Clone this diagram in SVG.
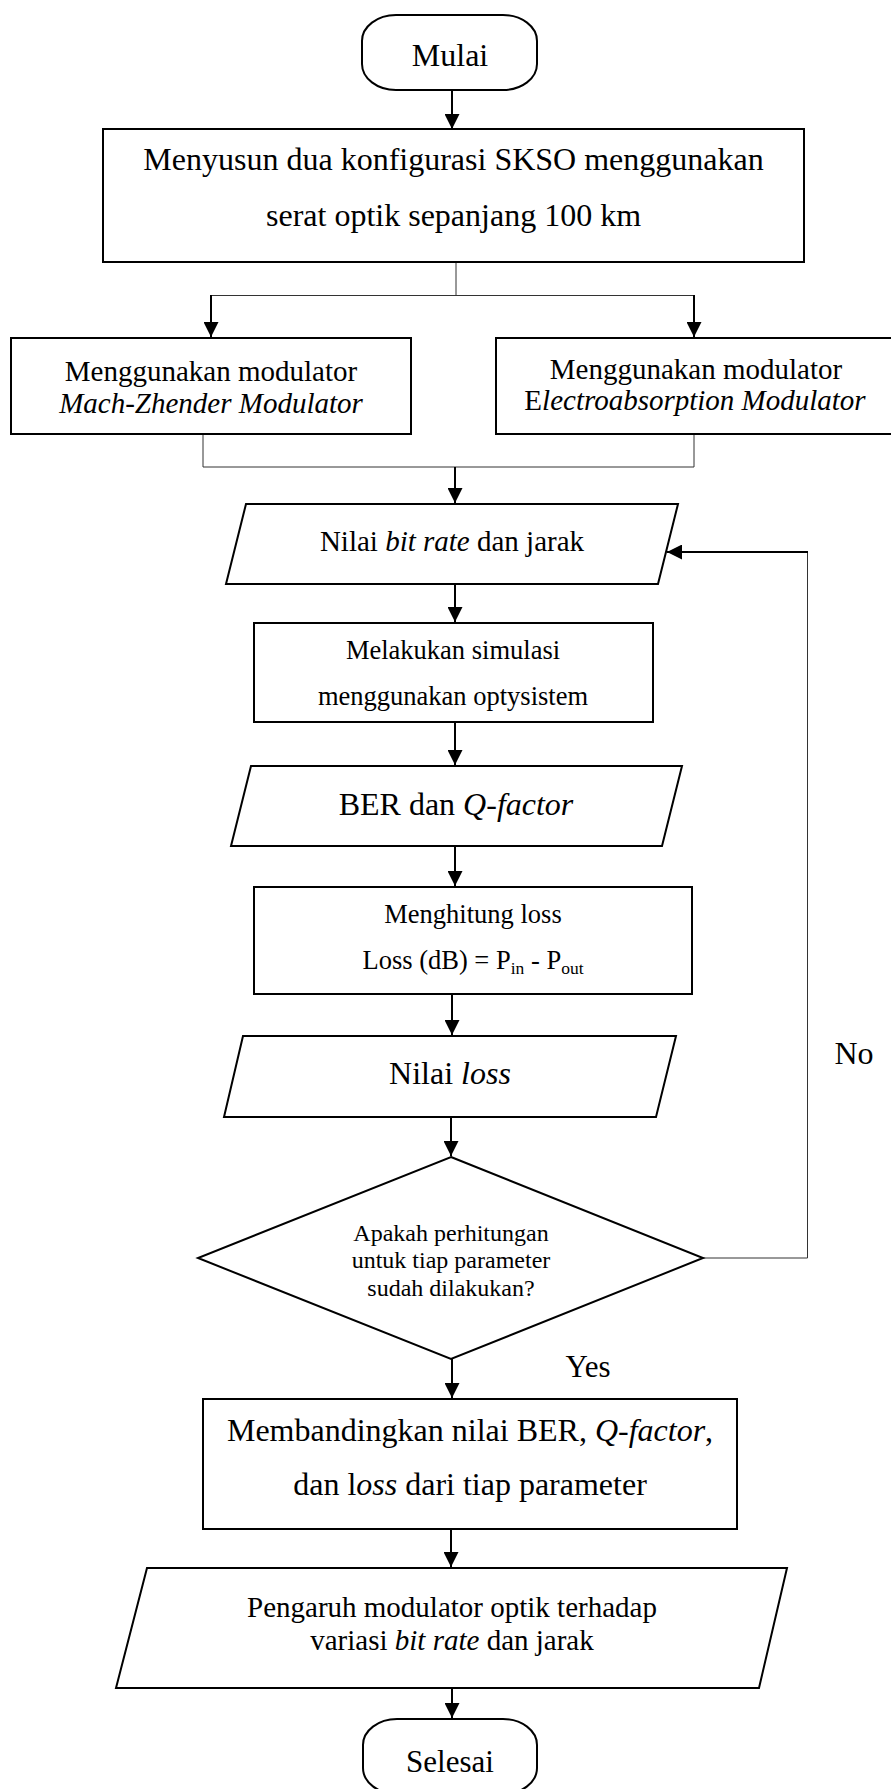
<svg xmlns="http://www.w3.org/2000/svg" width="891" height="1789" viewBox="0 0 891 1789">
<defs>
<style>
.s{fill:#fff;stroke:#000;stroke-width:2}
.t{font-family:"Liberation Serif","Times New Roman",serif;fill:#000;text-anchor:middle}
.c{fill:none;stroke:#000;stroke-width:2}
.thin{fill:none;stroke:#333;stroke-width:1}
.i{font-style:italic}
</style>
<marker id="ah" markerWidth="15" markerHeight="15" refX="15" refY="7.5" orient="auto" markerUnits="userSpaceOnUse"><path d="M0,0 L15,7.5 L0,15 Z" fill="#000"/></marker>
</defs>
<rect width="891" height="1789" fill="#fff"/>
<g id="connectors">
<line class="c" x1="452" y1="90" x2="452" y2="129" marker-end="url(#ah)"/>
<line class="thin" x1="456" y1="262" x2="456" y2="295.5"/>
<line class="thin" x1="211" y1="295.5" x2="694" y2="295.5"/>
<line class="c" x1="211" y1="295" x2="211" y2="337" marker-end="url(#ah)"/>
<line class="c" x1="694" y1="295" x2="694" y2="337" marker-end="url(#ah)"/>
<polyline class="thin" points="203,434 203,467 694,467 694,434"/>
<line class="c" x1="455" y1="467" x2="455" y2="503" marker-end="url(#ah)"/>
<line class="c" x1="455" y1="584" x2="455" y2="622" marker-end="url(#ah)"/>
<line class="c" x1="455" y1="722" x2="455" y2="765" marker-end="url(#ah)"/>
<line class="c" x1="455" y1="846" x2="455" y2="886" marker-end="url(#ah)"/>
<line class="c" x1="452" y1="994" x2="452" y2="1035" marker-end="url(#ah)"/>
<line class="c" x1="451" y1="1117" x2="451" y2="1156" marker-end="url(#ah)"/>
<polyline class="thin" points="703,1258 807.5,1258 807.5,552"/>
<line class="c" x1="808" y1="552" x2="667" y2="552" marker-end="url(#ah)"/>
<line class="c" x1="452" y1="1359" x2="452" y2="1398" marker-end="url(#ah)"/>
<line class="c" x1="451" y1="1529" x2="451" y2="1567" marker-end="url(#ah)"/>
<line class="c" x1="452" y1="1688" x2="452" y2="1718" marker-end="url(#ah)"/>
</g>
<g id="mulai">
<rect class="s" x="362" y="15" width="175" height="75" rx="34" ry="26"/>
<text class="t" x="450" y="66" font-size="32">Mulai</text>
</g>
<g id="menyusun">
<rect class="s" x="103" y="129" width="701" height="133"/>
<text class="t" x="453.5" y="170" font-size="32">Menyusun dua konfigurasi SKSO menggunakan</text>
<text class="t" x="453.5" y="226" font-size="32">serat optik sepanjang 100 km</text>
</g>
<g id="mzm">
<rect class="s" x="11" y="338" width="400" height="96"/>
<text class="t" x="211" y="381" font-size="29">Menggunakan modulator</text>
<text class="t i" x="211" y="413" font-size="29">Mach-Zhender Modulator</text>
</g>
<g id="eam">
<rect class="s" x="496" y="338" width="399" height="96"/>
<text class="t" x="696" y="379" font-size="29">Menggunakan modulator</text>
<text class="t" x="695" y="410" font-size="29">E<tspan class="i">lectroabsorption Modulator</tspan></text>
</g>
<g id="input-bitrate">
<polygon class="s" points="246,504 678,504 658,584 226,584"/>
<text class="t" x="452" y="551" font-size="29">Nilai <tspan class="i">bit rate</tspan> dan jarak</text>
</g>
<g id="simulasi">
<rect class="s" x="254" y="623" width="399" height="99"/>
<text class="t" x="453" y="659" font-size="26.5">Melakukan simulasi</text>
<text class="t" x="453" y="705" font-size="26.5">menggunakan optysistem</text>
</g>
<g id="ber">
<polygon class="s" points="251,766 682,766 662,846 231,846"/>
<text class="t" x="456" y="815" font-size="32">BER dan <tspan class="i">Q-factor</tspan></text>
</g>
<g id="hitung-loss">
<rect class="s" x="254" y="887" width="438" height="107"/>
<text class="t" x="473" y="923" font-size="26.5">Menghitung loss</text>
<text class="t" x="473" y="969" font-size="26.5">Loss (dB) = P<tspan font-size="17.5" dy="5">in</tspan><tspan dy="-5"> - P</tspan><tspan font-size="17.5" dy="5">out</tspan></text>
</g>
<g id="nilai-loss">
<polygon class="s" points="243,1036 676,1036 656,1117 224,1117"/>
<text class="t" x="450" y="1084" font-size="32">Nilai <tspan class="i">loss</tspan></text>
</g>
<g id="decision">
<polygon class="s" points="451,1157 703,1258 451,1359 198,1258"/>
<text class="t" x="451" y="1241" font-size="24">Apakah perhitungan</text>
<text class="t" x="451" y="1268" font-size="24">untuk tiap parameter</text>
<text class="t" x="451" y="1296" font-size="24">sudah dilakukan?</text>
</g>
<g id="label-no"><text class="t" x="854" y="1064" font-size="32">No</text></g>
<g id="label-yes"><text class="t" x="588" y="1377" font-size="31">Yes</text></g>
<g id="bandingkan">
<rect class="s" x="203" y="1399" width="534" height="130"/>
<text class="t" x="470" y="1441" font-size="32">Membandingkan nilai BER, <tspan class="i">Q-factor</tspan>,</text>
<text class="t" x="470" y="1495" font-size="32">dan l<tspan class="i">oss</tspan> dari tiap parameter</text>
</g>
<g id="pengaruh">
<polygon class="s" points="147,1568 787,1568 759,1688 116,1688"/>
<text class="t" x="452" y="1617" font-size="29">Pengaruh modulator optik terhadap</text>
<text class="t" x="452" y="1650" font-size="29">variasi <tspan class="i">bit rate</tspan> dan jarak</text>
</g>
<g id="selesai">
<rect class="s" x="363" y="1719" width="174" height="75" rx="34" ry="26"/>
<text class="t" x="450" y="1772" font-size="31">Selesai</text>
</g>
</svg>
